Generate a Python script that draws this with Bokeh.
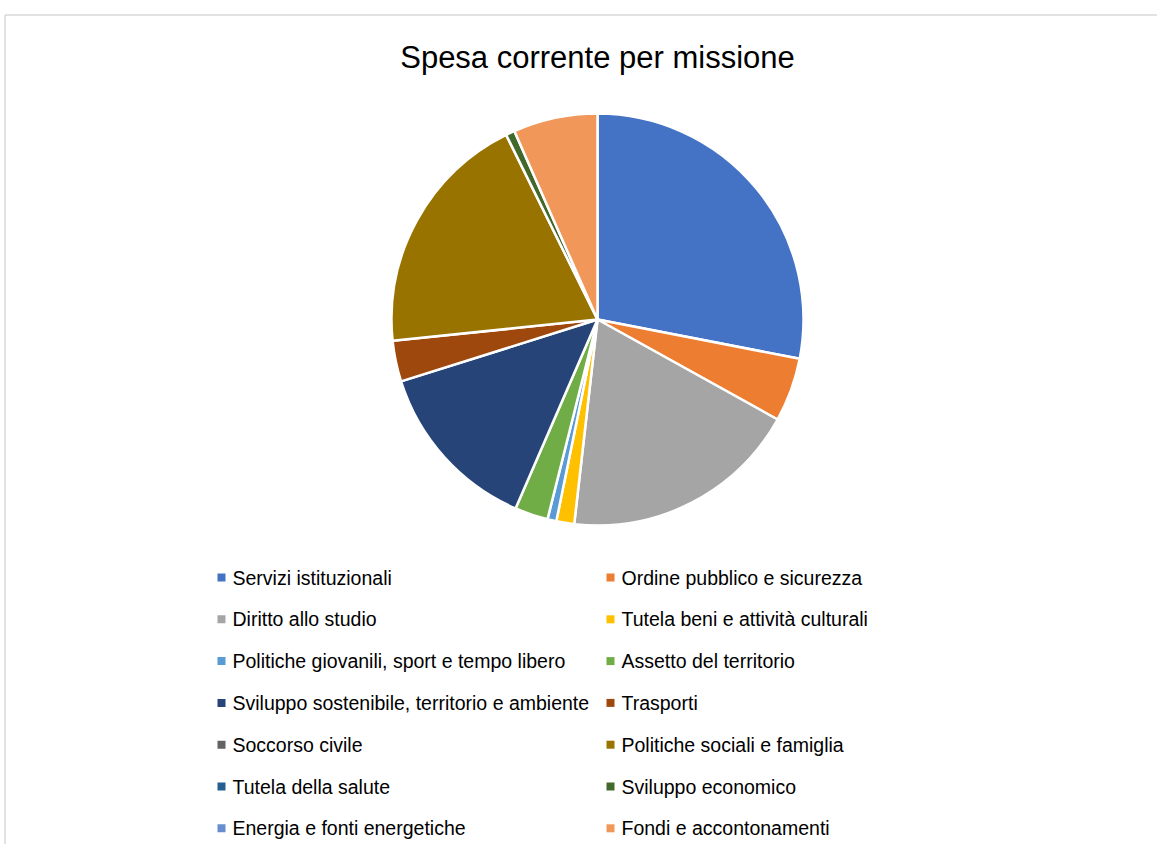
import math
from bokeh.plotting import figure
from bokeh.models import Range1d, ColumnDataSource
from bokeh.core.properties import value
from bokeh.embed import file_html
from bokeh.resources import INLINE

# ---- data ----
missioni = [
    "Servizi istituzionali",
    "Ordine pubblico e sicurezza",
    "Diritto allo studio",
    "Tutela beni e attività culturali",
    "Politiche giovanili, sport e tempo libero",
    "Assetto del territorio",
    "Sviluppo sostenibile, territorio e ambiente",
    "Trasporti",
    "Soccorso civile",
    "Politiche sociali e famiglia",
    "Tutela della salute",
    "Sviluppo economico",
    "Energia e fonti energetiche",
    "Fondi e accontonamenti",
]
quote = [28.0, 5.0, 18.7, 1.4, 0.7, 2.6, 13.6, 3.2, 0.0, 19.3, 0.0, 0.7, 0.0, 6.6]
colori = [
    "#4472C4", "#ED7D31", "#A5A5A5", "#FFC000", "#5B9BD5", "#70AD47",
    "#264478", "#9E480E", "#636363", "#997300", "#255E91", "#43682B",
    "#698ED0", "#F1975A",
]
titolo = "Spesa corrente per missione"

# ---- geometry ----
W, H = 1157, 844
CX, CY, R = 597, H - 319, 206
FONT = "Liberation Sans"

p = figure(width=W, height=H, output_backend="svg", toolbar_location=None,
           x_range=Range1d(0, W), y_range=Range1d(0, H), min_border=0,
           outline_line_color=None, background_fill_color="white",
           border_fill_color="white")
p.axis.visible = False
p.grid.visible = False

# wedges
tot = sum(quote)
starts, ends, cum = [], [], 0.0
for q in quote:
    starts.append(math.pi / 2 - 2 * math.pi * cum / tot)
    cum += q
    ends.append(math.pi / 2 - 2 * math.pi * cum / tot)
idx = [i for i, q in enumerate(quote) if q > 0]
src = ColumnDataSource(dict(
    start=[starts[i] for i in idx], end=[ends[i] for i in idx],
    color=[colori[i] for i in idx], x=[CX] * len(idx), y=[CY] * len(idx)))
p.wedge(x="x", y="y", radius=R, start_angle="start", end_angle="end",
        direction="clock", fill_color="color", line_color="white",
        line_width=2.5, source=src)

# chart border (left and top)
p.segment(x0=[4.5, 4.5], y0=[0, H - 14.5], x1=[4.5, W], y1=[H - 14.5, H - 14.5],
          line_color="#D9D9D9", line_width=1.5)

# title
p.text(x=[CX], y=[H - 57], text=[titolo], text_font=value(FONT),
       text_font_size="31px", text_align="center", text_baseline="middle",
       text_color="#000000")

# legend (two columns)
col_x = [221, 610]
row_y0, row_dy = H - 577, 41.8
lx, ly, tx = [], [], []
for i in range(len(missioni)):
    c, r = i % 2, i // 2
    lx.append(col_x[c])
    tx.append(col_x[c] + 11)
    ly.append(row_y0 - r * row_dy)
p.scatter(x=lx, y=ly, marker="square", size=8, fill_color=colori,
          line_color=None)
p.text(x=tx, y=ly, text=missioni, text_font=value(FONT),
       text_font_size="19.5px", text_align="left", text_baseline="middle",
       text_color="#000000")

open("out.html", "w").write(file_html(p, INLINE))
